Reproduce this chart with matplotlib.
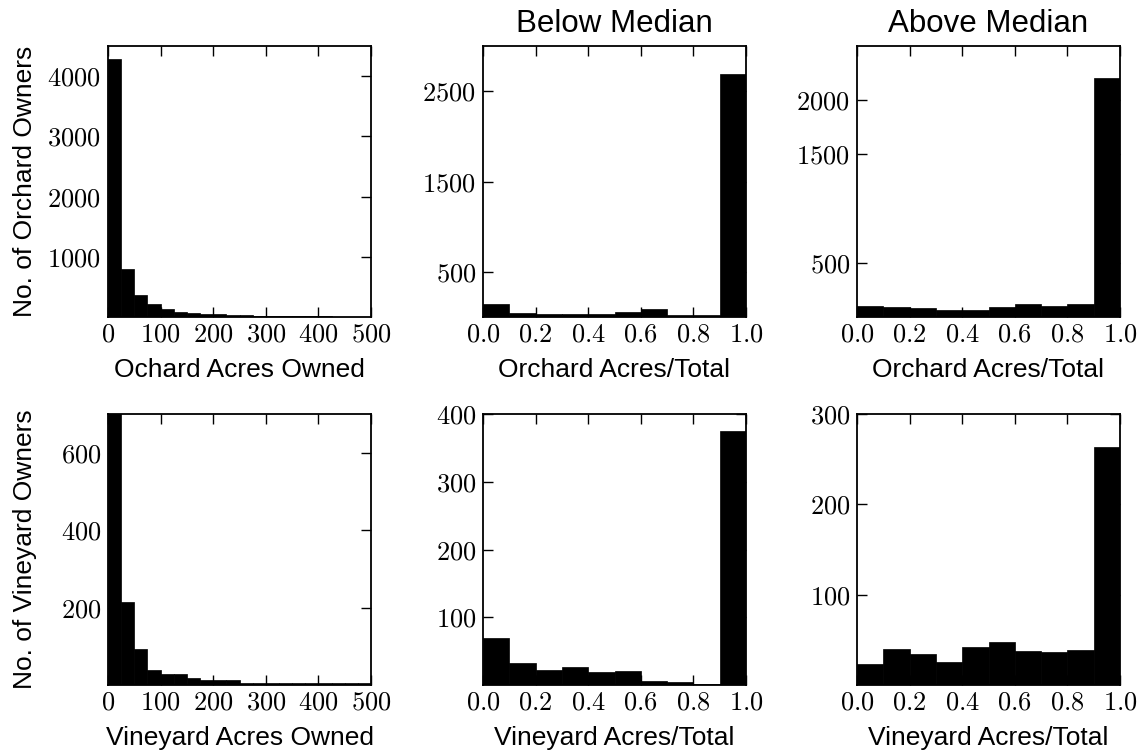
import matplotlib
matplotlib.use('Agg')
import matplotlib.pyplot as plt
from matplotlib.ticker import FuncFormatter
import numpy as np

# histogram counts
acre_edges = np.arange(0, 525, 25)
frac_edges = np.round(np.arange(0, 1.05, 0.1), 2)

orchard_acres = [4290, 790, 365, 210, 130, 90, 70, 55, 45, 32, 25, 20, 18, 15, 12, 10, 10, 8, 8, 6]
orchard_below = [141, 48, 37, 30, 37, 59, 85, 19, 19, 2690]
orchard_above = [102, 93, 80, 68, 68, 93, 123, 102, 123, 2205]

vineyard_acres = [1100, 215, 92, 40, 28, 28, 19, 12, 12, 12, 5, 5, 5, 6, 6, 6, 5, 5, 4, 4]
vineyard_below = [70, 32, 22, 26, 19, 20, 6, 4.5, 2, 375]
vineyard_above = [23, 40, 34, 25, 42, 48, 38, 36, 39, 263]

ylims = [[4500, 3000, 2500], [700, 400, 300]]
yticks = [[[1000, 2000, 3000, 4000], [500, 1500, 2500], [500, 1500, 2000]],
          [[200, 400, 600], [100, 200, 300, 400], [100, 200, 300]]]

plt.rcParams['mathtext.fontset'] = 'cm'
plt.rcParams['font.family'] = ['Liberation Sans', 'DejaVu Sans']

fig = plt.figure(figsize=(11.4, 7.53), dpi=100)
W, H = 1140.0, 753.0
col_left = [108, 483, 857]
row_top = [46, 414]
aw, ah = 263, 271

data = [[orchard_acres, orchard_below, orchard_above],
        [vineyard_acres, vineyard_below, vineyard_above]]
xlabels = [['Ochard Acres Owned', 'Orchard Acres/Total', 'Orchard Acres/Total'],
           ['Vineyard Acres Owned', 'Vineyard Acres/Total', 'Vineyard Acres/Total']]
ylabels = ['No. of Orchard Owners', 'No. of Vineyard Owners']
titles = ['', 'Below Median', 'Above Median']

int_fmt = FuncFormatter(lambda v, p: f'${int(round(v))}$')
frac_fmt = FuncFormatter(lambda v, p: f'${v:.1f}$')

for r in range(2):
    for c in range(3):
        ax = fig.add_axes([col_left[c] / W, 1 - (row_top[r] + ah) / H, aw / W, ah / H])
        edges = acre_edges if c == 0 else frac_edges
        counts = data[r][c]
        ax.hist(edges[:-1], bins=edges, weights=counts, color='black',
                edgecolor='black', linewidth=0.5)
        ax.set_xlim(edges[0], edges[-1])
        ax.set_ylim(0, ylims[r][c])
        ax.set_yticks(yticks[r][c])
        if c == 0:
            ax.set_xticks(np.arange(0, 501, 100))
            ax.xaxis.set_major_formatter(int_fmt)
        else:
            ax.set_xticks(np.round(np.arange(0, 1.01, 0.2), 1))
            ax.xaxis.set_major_formatter(frac_fmt)
        ax.yaxis.set_major_formatter(int_fmt)
        ax.tick_params(direction='in', length=7, width=1, top=True, right=True,
                       labelsize=19, pad=5)
        ax.tick_params(axis='x', pad=4)
        for s in ax.spines.values():
            s.set_linewidth(1.3)
        ax.set_xlabel(xlabels[r][c], fontsize=19)
        ax.xaxis.set_label_coords(0.5, -0.15)
        if c == 0:
            ax.set_ylabel(ylabels[r], fontsize=19)
            ax.yaxis.set_label_coords(-0.27, 0.5)
        if r == 0 and titles[c]:
            ax.set_title(titles[c], fontsize=22.5, pad=10)

fig.savefig('out.png', dpi=100, facecolor='white')
